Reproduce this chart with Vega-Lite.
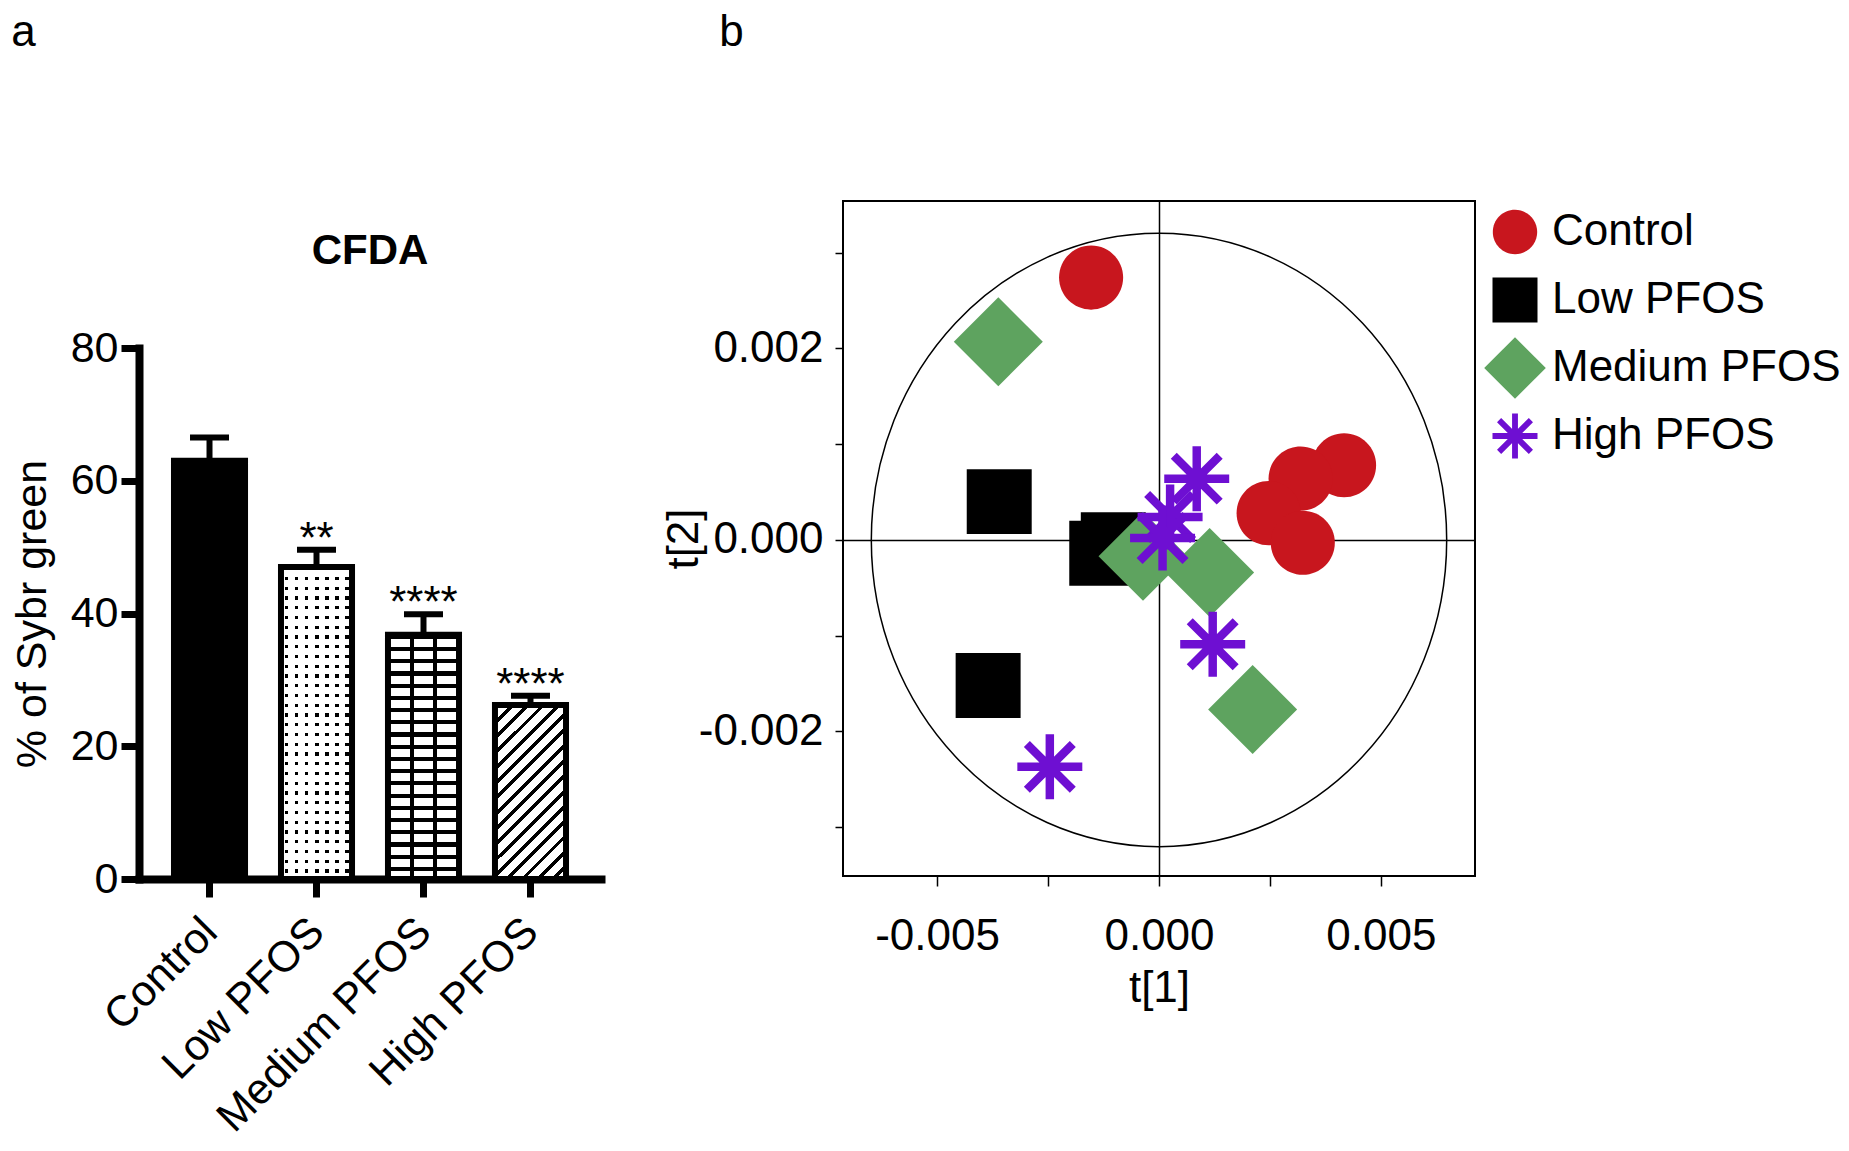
{
  "$schema": "https://vega.github.io/schema/vega-lite/v6.json",
  "background": "white",
  "padding": {"left": 11, "top": 10, "right": 0, "bottom": 0},
  "config": {"font": "Liberation Sans", "view": {"stroke": null}, "title": {"color": "black"}},
  "spacing": 60,
  "hconcat": [
    {
      "title": {"text": "a", "anchor": "start", "fontSize": 44, "fontWeight": "normal", "offset": 146},
      "spacing": 0,
      "vconcat": [
        {
          "width": 462,
          "height": 29,
          "data": {"values": [{}]},
          "mark": {"type": "text"},
          "encoding": {"text": {"value": " "}}
        },
        {
          "title": {"text": "CFDA", "fontSize": 42, "fontWeight": "bold", "anchor": "middle", "frame": "group", "offset": 54},
          "width": 462,
          "height": 531,
          "data": {"values": [
            {"group": "Control", "value": 63.0, "err": 66.5, "sig": ""},
            {"group": "Low PFOS", "value": 47.0, "err": 49.6, "sig": "**"},
            {"group": "Medium PFOS", "value": 36.8, "err": 39.9, "sig": "****"},
            {"group": "High PFOS", "value": 26.2, "err": 27.6, "sig": "****"}
          ]},
          "encoding": {
            "x": {"field": "group", "type": "nominal", "sort": null,
              "scale": {"paddingInner": 0.336, "paddingOuter": 0.327},
              "axis": {"title": null, "labelAngle": -45, "labelFontSize": 43, "labelColor": "black", "labelLimit": 400, "labelOffset": -14, "labelPadding": 13, "domainColor": "black", "domainWidth": 8, "domainCap": "square", "tickColor": "black", "tickWidth": 7, "tickSize": 18}},
            "y": {"field": "value", "type": "quantitative", "scale": {"domain": [0, 80]},
              "axis": {"title": "% of Sybr green", "titleFontSize": 43, "titleFontWeight": "normal", "titleColor": "black", "titlePadding": 16, "values": [0, 20, 40, 60, 80], "labelFontSize": 43, "labelColor": "black", "domainColor": "black", "domainWidth": 8, "domainCap": "square", "tickColor": "black", "tickWidth": 7, "tickSize": 18, "labelPadding": 3, "grid": false, "labelFlush": false}}
          },
          "layer": [
            {
              "mark": {"type": "rule", "color": "black", "strokeWidth": 6},
              "encoding": {"y2": {"field": "err"}}
            },
            {
              "transform": [{"filter": "datum.group == 'Control'"}],
              "mark": {"type": "bar", "fill": "black", "stroke": "black", "strokeWidth": 6}
            },
            {
              "transform": [{"filter": "datum.group == 'Low PFOS'"}],
              "mark": {"type": "bar", "strokeWidth": 0, "fill": {"gradient": "linear", "x1": 0, "y1": 0, "x2": 0, "y2": 1, "stops": [
                {"offset": 0, "color": "black"}, {"offset": 0.011, "color": "black"}, {"offset": 0.011, "color": "white"}, {"offset": 0.03125, "color": "white"},
                {"offset": 0.03125, "color": "black"}, {"offset": 0.04225, "color": "black"}, {"offset": 0.04225, "color": "white"}, {"offset": 0.0625, "color": "white"},
                {"offset": 0.0625, "color": "black"}, {"offset": 0.0735, "color": "black"}, {"offset": 0.0735, "color": "white"}, {"offset": 0.09375, "color": "white"},
                {"offset": 0.09375, "color": "black"}, {"offset": 0.10475, "color": "black"}, {"offset": 0.10475, "color": "white"}, {"offset": 0.125, "color": "white"},
                {"offset": 0.125, "color": "black"}, {"offset": 0.136, "color": "black"}, {"offset": 0.136, "color": "white"}, {"offset": 0.15625, "color": "white"},
                {"offset": 0.15625, "color": "black"}, {"offset": 0.16725, "color": "black"}, {"offset": 0.16725, "color": "white"}, {"offset": 0.1875, "color": "white"},
                {"offset": 0.1875, "color": "black"}, {"offset": 0.1985, "color": "black"}, {"offset": 0.1985, "color": "white"}, {"offset": 0.21875, "color": "white"},
                {"offset": 0.21875, "color": "black"}, {"offset": 0.22975, "color": "black"}, {"offset": 0.22975, "color": "white"}, {"offset": 0.25, "color": "white"},
                {"offset": 0.25, "color": "black"}, {"offset": 0.261, "color": "black"}, {"offset": 0.261, "color": "white"}, {"offset": 0.28125, "color": "white"},
                {"offset": 0.28125, "color": "black"}, {"offset": 0.29225, "color": "black"}, {"offset": 0.29225, "color": "white"}, {"offset": 0.3125, "color": "white"},
                {"offset": 0.3125, "color": "black"}, {"offset": 0.3235, "color": "black"}, {"offset": 0.3235, "color": "white"}, {"offset": 0.34375, "color": "white"},
                {"offset": 0.34375, "color": "black"}, {"offset": 0.35475, "color": "black"}, {"offset": 0.35475, "color": "white"}, {"offset": 0.375, "color": "white"},
                {"offset": 0.375, "color": "black"}, {"offset": 0.386, "color": "black"}, {"offset": 0.386, "color": "white"}, {"offset": 0.40625, "color": "white"},
                {"offset": 0.40625, "color": "black"}, {"offset": 0.41725, "color": "black"}, {"offset": 0.41725, "color": "white"}, {"offset": 0.4375, "color": "white"},
                {"offset": 0.4375, "color": "black"}, {"offset": 0.4485, "color": "black"}, {"offset": 0.4485, "color": "white"}, {"offset": 0.46875, "color": "white"},
                {"offset": 0.46875, "color": "black"}, {"offset": 0.47975, "color": "black"}, {"offset": 0.47975, "color": "white"}, {"offset": 0.5, "color": "white"},
                {"offset": 0.5, "color": "black"}, {"offset": 0.511, "color": "black"}, {"offset": 0.511, "color": "white"}, {"offset": 0.53125, "color": "white"},
                {"offset": 0.53125, "color": "black"}, {"offset": 0.54225, "color": "black"}, {"offset": 0.54225, "color": "white"}, {"offset": 0.5625, "color": "white"},
                {"offset": 0.5625, "color": "black"}, {"offset": 0.5735, "color": "black"}, {"offset": 0.5735, "color": "white"}, {"offset": 0.59375, "color": "white"},
                {"offset": 0.59375, "color": "black"}, {"offset": 0.60475, "color": "black"}, {"offset": 0.60475, "color": "white"}, {"offset": 0.625, "color": "white"},
                {"offset": 0.625, "color": "black"}, {"offset": 0.636, "color": "black"}, {"offset": 0.636, "color": "white"}, {"offset": 0.65625, "color": "white"},
                {"offset": 0.65625, "color": "black"}, {"offset": 0.66725, "color": "black"}, {"offset": 0.66725, "color": "white"}, {"offset": 0.6875, "color": "white"},
                {"offset": 0.6875, "color": "black"}, {"offset": 0.6985, "color": "black"}, {"offset": 0.6985, "color": "white"}, {"offset": 0.71875, "color": "white"},
                {"offset": 0.71875, "color": "black"}, {"offset": 0.72975, "color": "black"}, {"offset": 0.72975, "color": "white"}, {"offset": 0.75, "color": "white"},
                {"offset": 0.75, "color": "black"}, {"offset": 0.761, "color": "black"}, {"offset": 0.761, "color": "white"}, {"offset": 0.78125, "color": "white"},
                {"offset": 0.78125, "color": "black"}, {"offset": 0.79225, "color": "black"}, {"offset": 0.79225, "color": "white"}, {"offset": 0.8125, "color": "white"},
                {"offset": 0.8125, "color": "black"}, {"offset": 0.8235, "color": "black"}, {"offset": 0.8235, "color": "white"}, {"offset": 0.84375, "color": "white"},
                {"offset": 0.84375, "color": "black"}, {"offset": 0.85475, "color": "black"}, {"offset": 0.85475, "color": "white"}, {"offset": 0.875, "color": "white"},
                {"offset": 0.875, "color": "black"}, {"offset": 0.886, "color": "black"}, {"offset": 0.886, "color": "white"}, {"offset": 0.90625, "color": "white"},
                {"offset": 0.90625, "color": "black"}, {"offset": 0.91725, "color": "black"}, {"offset": 0.91725, "color": "white"}, {"offset": 0.9375, "color": "white"},
                {"offset": 0.9375, "color": "black"}, {"offset": 0.9485, "color": "black"}, {"offset": 0.9485, "color": "white"}, {"offset": 0.96875, "color": "white"},
                {"offset": 0.96875, "color": "black"}, {"offset": 0.97975, "color": "black"}, {"offset": 0.97975, "color": "white"}, {"offset": 1, "color": "white"}
              ]}}
            },
            {
              "transform": [{"filter": "datum.group == 'Low PFOS'"}],
              "mark": {"type": "bar", "stroke": "black", "strokeWidth": 6, "fill": {"gradient": "linear", "x1": 0, "y1": 0, "x2": 1, "y2": 0, "stops": [
                {"offset": 0, "color": "white"}, {"offset": 0.05, "color": "white"}, {"offset": 0.05, "color": "rgba(255,255,255,0)"}, {"offset": 0.1, "color": "rgba(255,255,255,0)"},
                {"offset": 0.1, "color": "white"}, {"offset": 0.1929, "color": "white"}, {"offset": 0.1929, "color": "rgba(255,255,255,0)"}, {"offset": 0.2429, "color": "rgba(255,255,255,0)"},
                {"offset": 0.2429, "color": "white"}, {"offset": 0.3357, "color": "white"}, {"offset": 0.3357, "color": "rgba(255,255,255,0)"}, {"offset": 0.3857, "color": "rgba(255,255,255,0)"},
                {"offset": 0.3857, "color": "white"}, {"offset": 0.4786, "color": "white"}, {"offset": 0.4786, "color": "rgba(255,255,255,0)"}, {"offset": 0.5286, "color": "rgba(255,255,255,0)"},
                {"offset": 0.5286, "color": "white"}, {"offset": 0.6214, "color": "white"}, {"offset": 0.6214, "color": "rgba(255,255,255,0)"}, {"offset": 0.6714, "color": "rgba(255,255,255,0)"},
                {"offset": 0.6714, "color": "white"}, {"offset": 0.7643, "color": "white"}, {"offset": 0.7643, "color": "rgba(255,255,255,0)"}, {"offset": 0.8143, "color": "rgba(255,255,255,0)"},
                {"offset": 0.8143, "color": "white"}, {"offset": 0.9071, "color": "white"}, {"offset": 0.9071, "color": "rgba(255,255,255,0)"}, {"offset": 0.9571, "color": "rgba(255,255,255,0)"},
                {"offset": 0.9571, "color": "white"}, {"offset": 1, "color": "white"}
              ]}}
            },
            {
              "transform": [{"filter": "datum.group == 'Medium PFOS'"}],
              "mark": {"type": "bar", "strokeWidth": 0, "fill": {"gradient": "linear", "x1": 0, "y1": 0, "x2": 0, "y2": 1, "stops": [
                {"offset": 0, "color": "black"}, {"offset": 0.017, "color": "black"}, {"offset": 0.017, "color": "white"}, {"offset": 0.05, "color": "white"},
                {"offset": 0.05, "color": "black"}, {"offset": 0.067, "color": "black"}, {"offset": 0.067, "color": "white"}, {"offset": 0.1, "color": "white"},
                {"offset": 0.1, "color": "black"}, {"offset": 0.117, "color": "black"}, {"offset": 0.117, "color": "white"}, {"offset": 0.15, "color": "white"},
                {"offset": 0.15, "color": "black"}, {"offset": 0.167, "color": "black"}, {"offset": 0.167, "color": "white"}, {"offset": 0.2, "color": "white"},
                {"offset": 0.2, "color": "black"}, {"offset": 0.217, "color": "black"}, {"offset": 0.217, "color": "white"}, {"offset": 0.25, "color": "white"},
                {"offset": 0.25, "color": "black"}, {"offset": 0.267, "color": "black"}, {"offset": 0.267, "color": "white"}, {"offset": 0.3, "color": "white"},
                {"offset": 0.3, "color": "black"}, {"offset": 0.317, "color": "black"}, {"offset": 0.317, "color": "white"}, {"offset": 0.35, "color": "white"},
                {"offset": 0.35, "color": "black"}, {"offset": 0.367, "color": "black"}, {"offset": 0.367, "color": "white"}, {"offset": 0.4, "color": "white"},
                {"offset": 0.4, "color": "black"}, {"offset": 0.417, "color": "black"}, {"offset": 0.417, "color": "white"}, {"offset": 0.45, "color": "white"},
                {"offset": 0.45, "color": "black"}, {"offset": 0.467, "color": "black"}, {"offset": 0.467, "color": "white"}, {"offset": 0.5, "color": "white"},
                {"offset": 0.5, "color": "black"}, {"offset": 0.517, "color": "black"}, {"offset": 0.517, "color": "white"}, {"offset": 0.55, "color": "white"},
                {"offset": 0.55, "color": "black"}, {"offset": 0.567, "color": "black"}, {"offset": 0.567, "color": "white"}, {"offset": 0.6, "color": "white"},
                {"offset": 0.6, "color": "black"}, {"offset": 0.617, "color": "black"}, {"offset": 0.617, "color": "white"}, {"offset": 0.65, "color": "white"},
                {"offset": 0.65, "color": "black"}, {"offset": 0.667, "color": "black"}, {"offset": 0.667, "color": "white"}, {"offset": 0.7, "color": "white"},
                {"offset": 0.7, "color": "black"}, {"offset": 0.717, "color": "black"}, {"offset": 0.717, "color": "white"}, {"offset": 0.75, "color": "white"},
                {"offset": 0.75, "color": "black"}, {"offset": 0.767, "color": "black"}, {"offset": 0.767, "color": "white"}, {"offset": 0.8, "color": "white"},
                {"offset": 0.8, "color": "black"}, {"offset": 0.817, "color": "black"}, {"offset": 0.817, "color": "white"}, {"offset": 0.85, "color": "white"},
                {"offset": 0.85, "color": "black"}, {"offset": 0.867, "color": "black"}, {"offset": 0.867, "color": "white"}, {"offset": 0.9, "color": "white"},
                {"offset": 0.9, "color": "black"}, {"offset": 0.917, "color": "black"}, {"offset": 0.917, "color": "white"}, {"offset": 0.95, "color": "white"},
                {"offset": 0.95, "color": "black"}, {"offset": 0.967, "color": "black"}, {"offset": 0.967, "color": "white"}, {"offset": 1, "color": "white"}
              ]}}
            },
            {
              "transform": [{"filter": "datum.group == 'Medium PFOS'"}],
              "mark": {"type": "bar", "stroke": "black", "strokeWidth": 6, "fill": {"gradient": "linear", "x1": 0, "y1": 0, "x2": 1, "y2": 0, "stops": [
                {"offset": 0, "color": "rgba(0,0,0,0)"}, {"offset": 0.31, "color": "rgba(0,0,0,0)"}, {"offset": 0.31, "color": "black"}, {"offset": 0.36, "color": "black"},
                {"offset": 0.36, "color": "rgba(0,0,0,0)"}, {"offset": 0.64, "color": "rgba(0,0,0,0)"}, {"offset": 0.64, "color": "black"}, {"offset": 0.69, "color": "black"},
                {"offset": 0.69, "color": "rgba(0,0,0,0)"}, {"offset": 1, "color": "rgba(0,0,0,0)"}
              ]}}
            },
            {
              "transform": [{"filter": "datum.group == 'High PFOS'"}],
              "mark": {"type": "bar", "stroke": "black", "strokeWidth": 6, "fill": {"gradient": "linear", "x1": 0, "y1": 0, "x2": 0.4925, "y2": 1.207, "stops": [
                {"offset": 0, "color": "black"}, {"offset": 0.02, "color": "black"}, {"offset": 0.02, "color": "white"}, {"offset": 0.0625, "color": "white"},
                {"offset": 0.0625, "color": "black"}, {"offset": 0.0825, "color": "black"}, {"offset": 0.0825, "color": "white"}, {"offset": 0.125, "color": "white"},
                {"offset": 0.125, "color": "black"}, {"offset": 0.145, "color": "black"}, {"offset": 0.145, "color": "white"}, {"offset": 0.1875, "color": "white"},
                {"offset": 0.1875, "color": "black"}, {"offset": 0.2075, "color": "black"}, {"offset": 0.2075, "color": "white"}, {"offset": 0.25, "color": "white"},
                {"offset": 0.25, "color": "black"}, {"offset": 0.27, "color": "black"}, {"offset": 0.27, "color": "white"}, {"offset": 0.3125, "color": "white"},
                {"offset": 0.3125, "color": "black"}, {"offset": 0.3325, "color": "black"}, {"offset": 0.3325, "color": "white"}, {"offset": 0.375, "color": "white"},
                {"offset": 0.375, "color": "black"}, {"offset": 0.395, "color": "black"}, {"offset": 0.395, "color": "white"}, {"offset": 0.4375, "color": "white"},
                {"offset": 0.4375, "color": "black"}, {"offset": 0.4575, "color": "black"}, {"offset": 0.4575, "color": "white"}, {"offset": 0.5, "color": "white"},
                {"offset": 0.5, "color": "black"}, {"offset": 0.52, "color": "black"}, {"offset": 0.52, "color": "white"}, {"offset": 0.5625, "color": "white"},
                {"offset": 0.5625, "color": "black"}, {"offset": 0.5825, "color": "black"}, {"offset": 0.5825, "color": "white"}, {"offset": 0.625, "color": "white"},
                {"offset": 0.625, "color": "black"}, {"offset": 0.645, "color": "black"}, {"offset": 0.645, "color": "white"}, {"offset": 0.6875, "color": "white"},
                {"offset": 0.6875, "color": "black"}, {"offset": 0.7075, "color": "black"}, {"offset": 0.7075, "color": "white"}, {"offset": 0.75, "color": "white"},
                {"offset": 0.75, "color": "black"}, {"offset": 0.77, "color": "black"}, {"offset": 0.77, "color": "white"}, {"offset": 0.8125, "color": "white"},
                {"offset": 0.8125, "color": "black"}, {"offset": 0.8325, "color": "black"}, {"offset": 0.8325, "color": "white"}, {"offset": 0.875, "color": "white"},
                {"offset": 0.875, "color": "black"}, {"offset": 0.895, "color": "black"}, {"offset": 0.895, "color": "white"}, {"offset": 0.9375, "color": "white"},
                {"offset": 0.9375, "color": "black"}, {"offset": 0.9575, "color": "black"}, {"offset": 0.9575, "color": "white"}, {"offset": 1, "color": "white"}
              ]}}
            },
            {
              "mark": {"type": "tick", "color": "black", "thickness": 6, "size": 39, "opacity": 1},
              "encoding": {
                "y": {"field": "err", "type": "quantitative", "scale": {"domain": [0, 80]},
                  "axis": {"title": "% of Sybr green", "titleFontSize": 43, "titleFontWeight": "normal", "titleColor": "black", "titlePadding": 16, "values": [0, 20, 40, 60, 80], "labelFontSize": 43, "labelColor": "black", "domainColor": "black", "domainWidth": 8, "domainCap": "square", "tickColor": "black", "tickWidth": 7, "tickSize": 18, "labelPadding": 3, "grid": false, "labelFlush": false}}
              }
            },
            {
              "mark": {"type": "text", "fontSize": 44, "baseline": "alphabetic", "dy": 3, "color": "black"},
              "encoding": {
                "y": {"field": "err", "type": "quantitative", "scale": {"domain": [0, 80]},
                  "axis": {"title": "% of Sybr green", "titleFontSize": 43, "titleFontWeight": "normal", "titleColor": "black", "titlePadding": 16, "values": [0, 20, 40, 60, 80], "labelFontSize": 43, "labelColor": "black", "domainColor": "black", "domainWidth": 8, "domainCap": "square", "tickColor": "black", "tickWidth": 7, "tickSize": 18, "labelPadding": 3, "grid": false, "labelFlush": false}},
                "text": {"field": "sig"}
              }
            }
          ]
        }
      ]
    },
    {
      "title": {"text": "b", "anchor": "start", "fontSize": 44, "fontWeight": "normal", "offset": 146, "dx": 57},
      "width": 632,
      "height": 675,
      "view": {"stroke": "black", "strokeWidth": 2},
      "encoding": {
        "x": {"field": "t1", "type": "quantitative", "scale": {"domain": [-0.00712, 0.00712], "nice": false, "zero": false},
          "axis": {"title": "t[1]", "titleFontSize": 44, "titleFontWeight": "normal", "titleColor": "black", "titlePadding": 8, "values": [-0.005, -0.0025, 0, 0.0025, 0.005], "labelExpr": "abs(datum.value) == 0.0025 ? '' : (datum.value < 0 ? '-' : '') + format(abs(datum.value), '.3f')", "labelFontSize": 44, "labelColor": "black", "labelPadding": 28, "tickSize": 10, "tickColor": "black", "tickWidth": 1.5, "domain": false, "grid": true, "gridColor": "black", "gridWidth": 1.5, "gridOpacity": {"condition": {"test": "datum.value == 0", "value": 1}, "value": 0}, "labelFlush": false, "labelOverlap": false}},
        "y": {"field": "t2", "type": "quantitative", "scale": {"domain": [-0.00351, 0.00354], "nice": false, "zero": false},
          "axis": {"title": "t[2]", "titleFontSize": 44, "titleFontWeight": "normal", "titleColor": "black", "titlePadding": -8, "values": [-0.003, -0.002, -0.001, 0, 0.001, 0.002, 0.003], "labelExpr": "(abs(datum.value) == 0.002 || datum.value == 0) ? (datum.value < 0 ? '-' : '') + format(abs(datum.value), '.3f') : ''", "labelFontSize": 44, "labelColor": "black", "labelPadding": 12, "tickSize": 8, "tickColor": "black", "tickWidth": 1.5, "domain": false, "grid": true, "gridColor": "black", "gridWidth": 1.5, "gridOpacity": {"condition": {"test": "datum.value == 0", "value": 1}, "value": 0}, "labelFlush": false, "labelOverlap": false}}
      },
      "layer": [
        {
          "data": {"values": [{"t1": 0, "t2": 0}]},
          "mark": {"type": "point", "shape": "M0.938,0C0.938,0.5523,0.518,1,0,1C-0.518,1,-0.938,0.5523,-0.938,0C-0.938,-0.5523,-0.518,-1,0,-1C0.518,-1,0.938,-0.5523,0.938,0Z", "size": 376260, "filled": false, "stroke": "black", "strokeWidth": 1.5, "opacity": 1}
        },
        {
          "data": {"values": [
            {"group": "Control", "t1": -0.00153, "t2": 0.00274},
            {"group": "Control", "t1": 0.00417, "t2": 0.00078},
            {"group": "Control", "t1": 0.00319, "t2": 0.00064},
            {"group": "Control", "t1": 0.00247, "t2": 0.00028},
            {"group": "Control", "t1": 0.00324, "t2": -0.00003},
            {"group": "Low PFOS", "t1": -0.0036, "t2": 0.0004},
            {"group": "Low PFOS", "t1": -0.00129, "t2": -0.00014},
            {"group": "Low PFOS", "t1": -0.00103, "t2": -0.00005},
            {"group": "Low PFOS", "t1": -0.00385, "t2": -0.00152},
            {"group": "Medium PFOS", "t1": -0.00362, "t2": 0.00207},
            {"group": "Medium PFOS", "t1": -0.00036, "t2": -0.00017},
            {"group": "Medium PFOS", "t1": 0.00114, "t2": -0.00034},
            {"group": "Medium PFOS", "t1": 0.00211, "t2": -0.00177},
            {"group": "High PFOS", "t1": 0.00085, "t2": 0.00064},
            {"group": "High PFOS", "t1": 0.00025, "t2": 0.00024},
            {"group": "High PFOS", "t1": 0.00008, "t2": 0.00002},
            {"group": "High PFOS", "t1": 0.00121, "t2": -0.00109},
            {"group": "High PFOS", "t1": -0.00246, "t2": -0.00237}
          ]},
          "mark": {"type": "point", "filled": true, "opacity": 1, "strokeWidth": 0, "size": 7921},
          "encoding": {
            "color": {"field": "group", "type": "nominal", "sort": null,
              "scale": {"domain": ["Control", "Low PFOS", "Medium PFOS", "High PFOS"], "range": ["#c8161e", "#000000", "#5ea35f", "#6e0fd2"]},
              "legend": {"title": null, "orient": "right", "gridAlign": "all", "labelFontSize": 44, "labelColor": "black", "labelLimit": 400, "symbolSize": 3800, "symbolOpacity": 1, "symbolStrokeWidth": 0, "rowPadding": 6, "labelOffset": 6, "offset": 8, "padding": 0}},
            "shape": {"field": "group", "type": "nominal", "sort": null,
              "scale": {"domain": ["Control", "Low PFOS", "Medium PFOS", "High PFOS"], "range": [
                "M0.72,0C0.72,0.3977,0.3977,0.72,0,0.72C-0.3977,0.72,-0.72,0.3977,-0.72,0C-0.72,-0.3977,-0.3977,-0.72,0,-0.72C0.3977,-0.72,0.72,-0.3977,0.72,0Z",
                "M-0.73,-0.73L0.73,-0.73L0.73,0.73L-0.73,0.73Z",
                "M-1,0L0,-1L1,0L0,1Z",
                "M-0.73,-0.095L0.73,-0.095L0.73,0.095L-0.73,0.095ZM-0.095,-0.73L0.095,-0.73L0.095,0.73L-0.095,0.73ZM-0.4488,-0.5832L0.5832,0.4488L0.4488,0.5832L-0.5832,-0.4488ZM-0.5832,0.4488L0.4488,-0.5832L0.5832,-0.4488L-0.4488,0.5832Z"
              ]},
              "legend": {"title": null, "orient": "right", "gridAlign": "all", "labelFontSize": 44, "labelColor": "black", "labelLimit": 400, "symbolSize": 3800, "symbolOpacity": 1, "symbolStrokeWidth": 0, "rowPadding": 6, "labelOffset": 6, "offset": 8, "padding": 0}}
          }
        }
      ]
    }
  ]
}
